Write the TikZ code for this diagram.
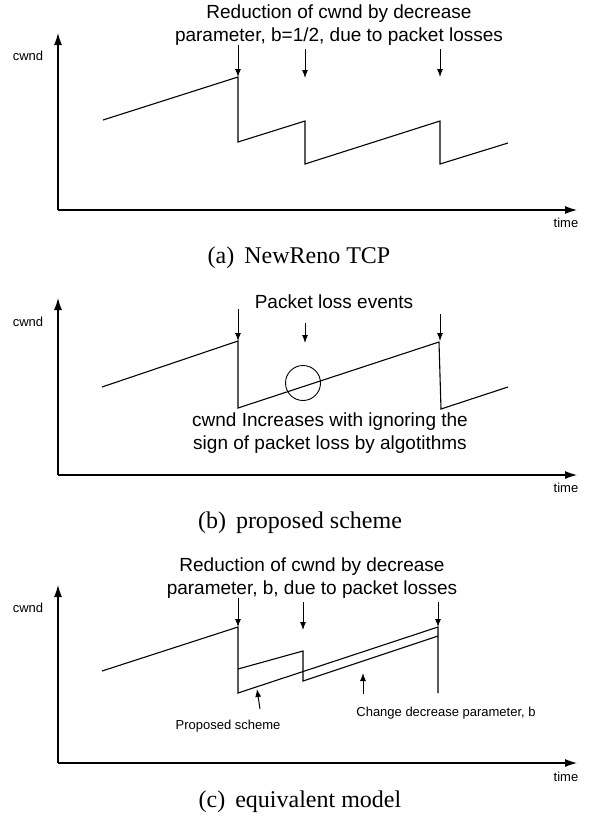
\documentclass[tikz,border=0pt]{standalone}
\usepackage{fontspec}
\setmainfont{Liberation Sans}
\newfontfamily\capfont{Liberation Serif}
\usetikzlibrary{arrows.meta}

\begin{document}
\begin{tikzpicture}
                [
                x=1pt,y=-1pt,
                curve/.style={line width=1.1pt,line join=miter},
                axis/.style={line width=1.1pt,-{Latex[length=12pt,width=8pt]}},
                loss/.style={line width=1pt,-{Latex[length=8pt,width=6pt]}},
                note/.style={inner sep=0pt,align=center,font=\fontsize{19}{23}\selectfont},
                small/.style={inner sep=0pt,font=\fontsize{13}{15}\selectfont},
                caption/.style={inner sep=0pt,font=\capfont\fontsize{24}{28}\selectfont}
                ]
            \useasboundingbox (0,0) rectangle (594,828);
            % (a) NewReno TCP
            \coordinate (oa) at (58,210);
            \coordinate (ya) at (58,33);
            \coordinate (xa) at (577,210);
            \draw[axis] (oa) -- (ya);
            \draw[axis] (oa) -- (xa);
            \node[small] (cwnda) at (28,56) {cwnd};
            \node[small] (timea) at (566,223) {time};
            \node[note] (titlea) at (339,25) {Reduction of cwnd by decrease\\parameter, b=1/2, due to packet losses};
            \coordinate (a0) at (103,120);
            \coordinate (a1) at (238,77);
            \coordinate (a2) at (238,142);
            \coordinate (a3) at (305,121);
            \coordinate (a4) at (305,164);
            \coordinate (a5) at (440,121);
            \coordinate (a6) at (440,164);
            \coordinate (a7) at (508,143);
            \draw[curve] (a0) -- (a1) -- (a2) -- (a3) -- (a4) -- (a5) -- (a6) -- (a7);
            \coordinate (la1) at (238,45);
            \coordinate (la2) at (305,49);
            \coordinate (la3) at (440,49);
            \draw[loss] (la1) -- (a1);
            \draw[loss] (la2) -- (305,78);
            \draw[loss] (la3) -- (440,77);
            \node[caption] (capa) at (299,258) {(a)\, NewReno TCP};
            % (b) proposed scheme
            \coordinate (ob) at (58,475);
            \coordinate (yb) at (58,298);
            \coordinate (xb) at (577,475);
            \draw[axis] (ob) -- (yb);
            \draw[axis] (ob) -- (xb);
            \node[small] (cwndb) at (28,322) {cwnd};
            \node[small] (timeb) at (566,488) {time};
            \node[note] (titleb) at (334,302) {Packet loss events};
            \coordinate (b0) at (102,387);
            \coordinate (b1) at (238,341);
            \coordinate (b2) at (238,408);
            \coordinate (b3) at (439,342);
            \coordinate (b4) at (441,409);
            \coordinate (b5) at (508,387);
            \draw[curve] (b0) -- (b1) -- (b2) -- (b3) -- (b4) -- (b5);
            \coordinate (lb1) at (238,309);
            \coordinate (lb2) at (305,323);
            \coordinate (lb3) at (440,314);
            \draw[loss] (lb1) -- (b1);
            \draw[loss] (lb2) -- (305,343);
            \draw[loss] (lb3) -- (440,341);
            \node[draw,circle,line width=0.9pt,minimum size=35pt,inner sep=0pt] (ignore) at (303,383) {};
            \node[note] (noteb) at (330,433) {cwnd Increases with ignoring the\\sign of packet loss by algotithms};
            \node[caption] (capb) at (300,523) {(b)\, proposed scheme};
            % (c) equivalent model
            \coordinate (oc) at (58,763);
            \coordinate (yc) at (58,585);
            \coordinate (xc) at (577,763);
            \draw[axis] (oc) -- (yc);
            \draw[axis] (oc) -- (xc);
            \node[small] (cwndc) at (28,608) {cwnd};
            \node[small] (timec) at (566,777) {time};
            \node[note] (titlec) at (312,578) {Reduction of cwnd by decrease\\parameter, b, due to packet losses};
            \coordinate (c0) at (102,671);
            \coordinate (c1) at (238,627);
            \coordinate (c2) at (238,669);
            \coordinate (c3) at (303,651);
            \coordinate (c4) at (303,681);
            \coordinate (c5) at (438,627);
            \coordinate (c6) at (238,693);
            \coordinate (c7) at (438,636);
            \coordinate (c8) at (438,693);
            \draw[curve] (c0) -- (c1) -- (c6) -- (c5) -- (c8);
            \draw[curve] (c2) -- (c3) -- (c4) -- (c7);
            \coordinate (lc1) at (238,598);
            \coordinate (lc2) at (303,602);
            \coordinate (lc3) at (438,602);
            \draw[loss] (lc1) -- (c1);
            \draw[loss] (lc2) -- (303,630);
            \draw[loss] (lc3) -- (c5);
            \node[small] (prop) at (228,726) {Proposed scheme};
            \node[small] (change) at (446,713) {Change decrease parameter, b};
            \draw[loss] (260,709) -- (257,689);
            \draw[loss] (363,694) -- (363,673);
            \node[caption] (capc) at (300,802) {(c)\, equivalent model};
            \end{tikzpicture}
\end{document}
